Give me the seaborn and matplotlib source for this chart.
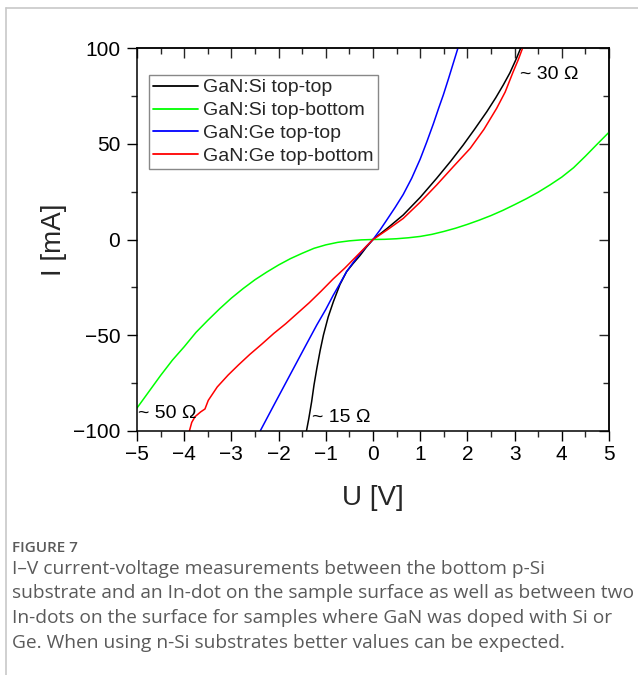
import numpy as np
import pandas as pd
import matplotlib
matplotlib.use("Agg")
import matplotlib.pyplot as plt
from matplotlib.ticker import MultipleLocator
from matplotlib.lines import Line2D
import seaborn as sns

# ---- data ----
series_names = ["GaN:Si top-top", "GaN:Si top-bottom", "GaN:Ge top-top", "GaN:Ge top-bottom"]
series_colors = ["#000000", "#00ff00", "#0000ff", "#ff0000"]

si_tt_U = [-1.41, -1.36, -1.30, -1.25, -1.19, -1.12, -1.05, -0.95, -0.84, -0.70, -0.56, -0.42, -0.28, -0.14,
           0.0, 0.30, 0.64, 1.0, 1.35, 1.65, 1.91, 2.15, 2.41, 2.60, 2.76, 2.90, 3.04, 3.13]
si_tt_I = [-100, -93.5, -84.7, -76, -67.3, -58, -49.9, -40.5, -32.5, -23.5, -16.8, -12.5, -8.5, -4.0,
           0.0, 5.8, 12.8, 22, 32.0, 41, 49.3, 57.5, 66.7, 74, 80.7, 87, 94.6, 100]

si_tb_U = [-5.0, -4.75, -4.5, -4.25, -4.0, -3.75, -3.5, -3.25, -3.0, -2.75, -2.5, -2.25, -2.0, -1.75, -1.5,
           -1.25, -1.0, -0.75, -0.5, -0.25, 0.0, 0.25, 0.5, 0.75, 1.0, 1.25, 1.5, 1.75, 2.0, 2.25, 2.5,
           2.75, 3.0, 3.25, 3.5, 3.75, 4.0, 4.25, 4.5, 4.75, 5.0]
si_tb_I = [-88, -79.5, -71, -63, -56, -48.5, -42.2, -36.2, -30.6, -25.6, -21, -17, -13.3, -10, -7.2,
           -4.6, -2.8, -1.5, -0.7, -0.2, 0.0, 0.1, 0.4, 0.9, 1.6, 2.7, 4.2, 5.9, 7.9, 10.1, 12.5,
           15.2, 18.2, 21.3, 24.7, 28.5, 32.6, 37.5, 43.5, 49.8, 56]

ge_tt_U = [-2.39, -2.10, -1.76, -1.45, -1.19, -1.0, -0.84, -0.70, -0.56, -0.42, -0.28, -0.14,
           0.0, 0.15, 0.30, 0.47, 0.64, 0.82, 1.0, 1.14, 1.28, 1.39, 1.49, 1.60, 1.70, 1.80]
ge_tt_I = [-100, -86.5, -70.8, -56.5, -44.6, -36.5, -29, -23, -16.8, -12, -7.5, -3.6,
           0.0, 5, 10.5, 16.8, 23.5, 32, 42, 51, 60.5, 68.5, 75.5, 84, 92, 100]

ge_tb_U = [-3.89, -3.84, -3.77, -3.65, -3.56, -3.49, -3.30, -3.07, -2.85, -2.61, -2.35, -2.10, -1.85,
           -1.60, -1.35, -1.10, -0.84, -0.60, -0.30, 0.0, 0.30, 0.64, 1.0, 1.35, 1.70, 2.06, 2.35,
           2.62, 2.80, 2.97, 3.08, 3.17]
ge_tb_I = [-100, -95.5, -92.5, -90, -88.5, -84, -77, -70.8, -65.5, -60, -54.5, -49, -44,
           -38.5, -33, -27, -20.5, -15, -7.5, 0.0, 5, 11, 19.5, 28.5, 38, 47.6, 57.5,
           68.5, 77, 87.6, 94, 100]

annot_texts = ["~ 30 \u03a9", "~ 50 \u03a9", "~ 15 \u03a9"]
annot_U = [3.12, -4.98, -1.30]
annot_I = [86, -91, -93.2]

x_label = "U [V]"
y_label = "I [mA]"
x_ticks = [-5, -4, -3, -2, -1, 0, 1, 2, 3, 4, 5]
y_ticks = [-100, -50, 0, 50, 100]

fig_label = "FIGURE 7"
caption_lines = [
    "I\u2013V current-voltage measurements between the bottom p-Si",
    "substrate and an In-dot on the sample surface as well as between two",
    "In-dots on the surface for samples where GaN was doped with Si or",
    "Ge. When using n-Si substrates better values can be expected.",
]

# ---- build long table ----
frames = []
for name, U, I in zip(series_names,
                      [si_tt_U, si_tb_U, ge_tt_U, ge_tb_U],
                      [si_tt_I, si_tb_I, ge_tt_I, ge_tb_I]):
    frames.append(pd.DataFrame({"U": U, "I": I, "series": name}))
df = pd.concat(frames, ignore_index=True)

sns.set_style("ticks")
plt.rcParams["font.family"] = ["Liberation Sans", "DejaVu Sans"]
plt.rcParams["axes.linewidth"] = 1.1

fig = plt.figure(figsize=(6.38, 6.75), dpi=100)
ax = fig.add_axes([137 / 638, 1 - 431 / 675, 472 / 638, 383 / 675])

sns.lineplot(data=df, x="U", y="I", hue="series", hue_order=series_names,
             palette=series_colors, sort=False, estimator=None,
             linewidth=1.1, legend=False, ax=ax)

ax.set_xlim(-5, 5)
ax.set_ylim(-100, 100)
ax.set_xticks(x_ticks)
ax.set_yticks(y_ticks)
ax.xaxis.set_minor_locator(MultipleLocator(0.5))
ax.yaxis.set_minor_locator(MultipleLocator(25))
for s in ax.spines.values():
    s.set_visible(True)
    s.set_linewidth(1.1)
    s.set_color("black")
ax.tick_params(which="major", direction="out", length=7, width=1.0, labelsize=15, colors="black")
ax.tick_params(which="minor", direction="out", length=4.5, width=1.0)
ax.tick_params(axis="y", which="major", pad=5)
ax.tick_params(axis="x", which="major", pad=3)
ax.set_xlabel(x_label, fontsize=20, labelpad=15)
ax.set_ylabel(y_label, fontsize=20, labelpad=4)

# mirrored inward ticks on top / right
secx = ax.secondary_xaxis("top")
secx.set_xticks(x_ticks)
secx.xaxis.set_minor_locator(MultipleLocator(0.5))
secx.tick_params(which="major", direction="in", length=7, width=1.0, labeltop=False)
secx.tick_params(which="minor", direction="in", length=4.5, width=1.0)
secy = ax.secondary_yaxis("right")
secy.set_yticks(y_ticks)
secy.yaxis.set_minor_locator(MultipleLocator(25))
secy.tick_params(which="major", direction="in", length=7, width=1.0, labelright=False)
secy.tick_params(which="minor", direction="in", length=4.5, width=1.0)

for t, u, i in zip(annot_texts, annot_U, annot_I):
    ax.text(u, i, t, fontsize=14, ha="left", va="center", color="black")

handles = [Line2D([], [], color=c, lw=1.3) for c in series_colors]
leg = ax.legend(handles, series_names, loc="upper left",
                bbox_to_anchor=((149 - 137) / 472, (431 - 75) / 383),
                borderaxespad=0, fontsize=14, frameon=True, fancybox=False,
                framealpha=1, edgecolor="#888888", handlelength=2.3,
                handletextpad=0.3, labelspacing=0.27, borderpad=0.2)
leg.get_frame().set_linewidth(1.0)

# page frame lines
fig.add_artist(Line2D([6 / 638, 6 / 638], [0, 1 - 8 / 675], color="#c8c8c8", lw=1.2, transform=fig.transFigure))
fig.add_artist(Line2D([6 / 638, 1], [1 - 8 / 675, 1 - 8 / 675], color="#c8c8c8", lw=1.2, transform=fig.transFigure))

cap_font = ["Open Sans", "DejaVu Sans"]
fig.text(12 / 638, 1 - 548 / 675, fig_label, fontsize=11, fontweight="semibold",
         color="#5a5a5a", family=cap_font, va="center", ha="left")
for k, line in enumerate(caption_lines):
    fig.text(12 / 638, 1 - (569 + 24.5 * k) / 675, line, fontsize=13.8,
             color="#5a5a5a", family=cap_font, va="center", ha="left")

fig.savefig("out.png", dpi=100)
